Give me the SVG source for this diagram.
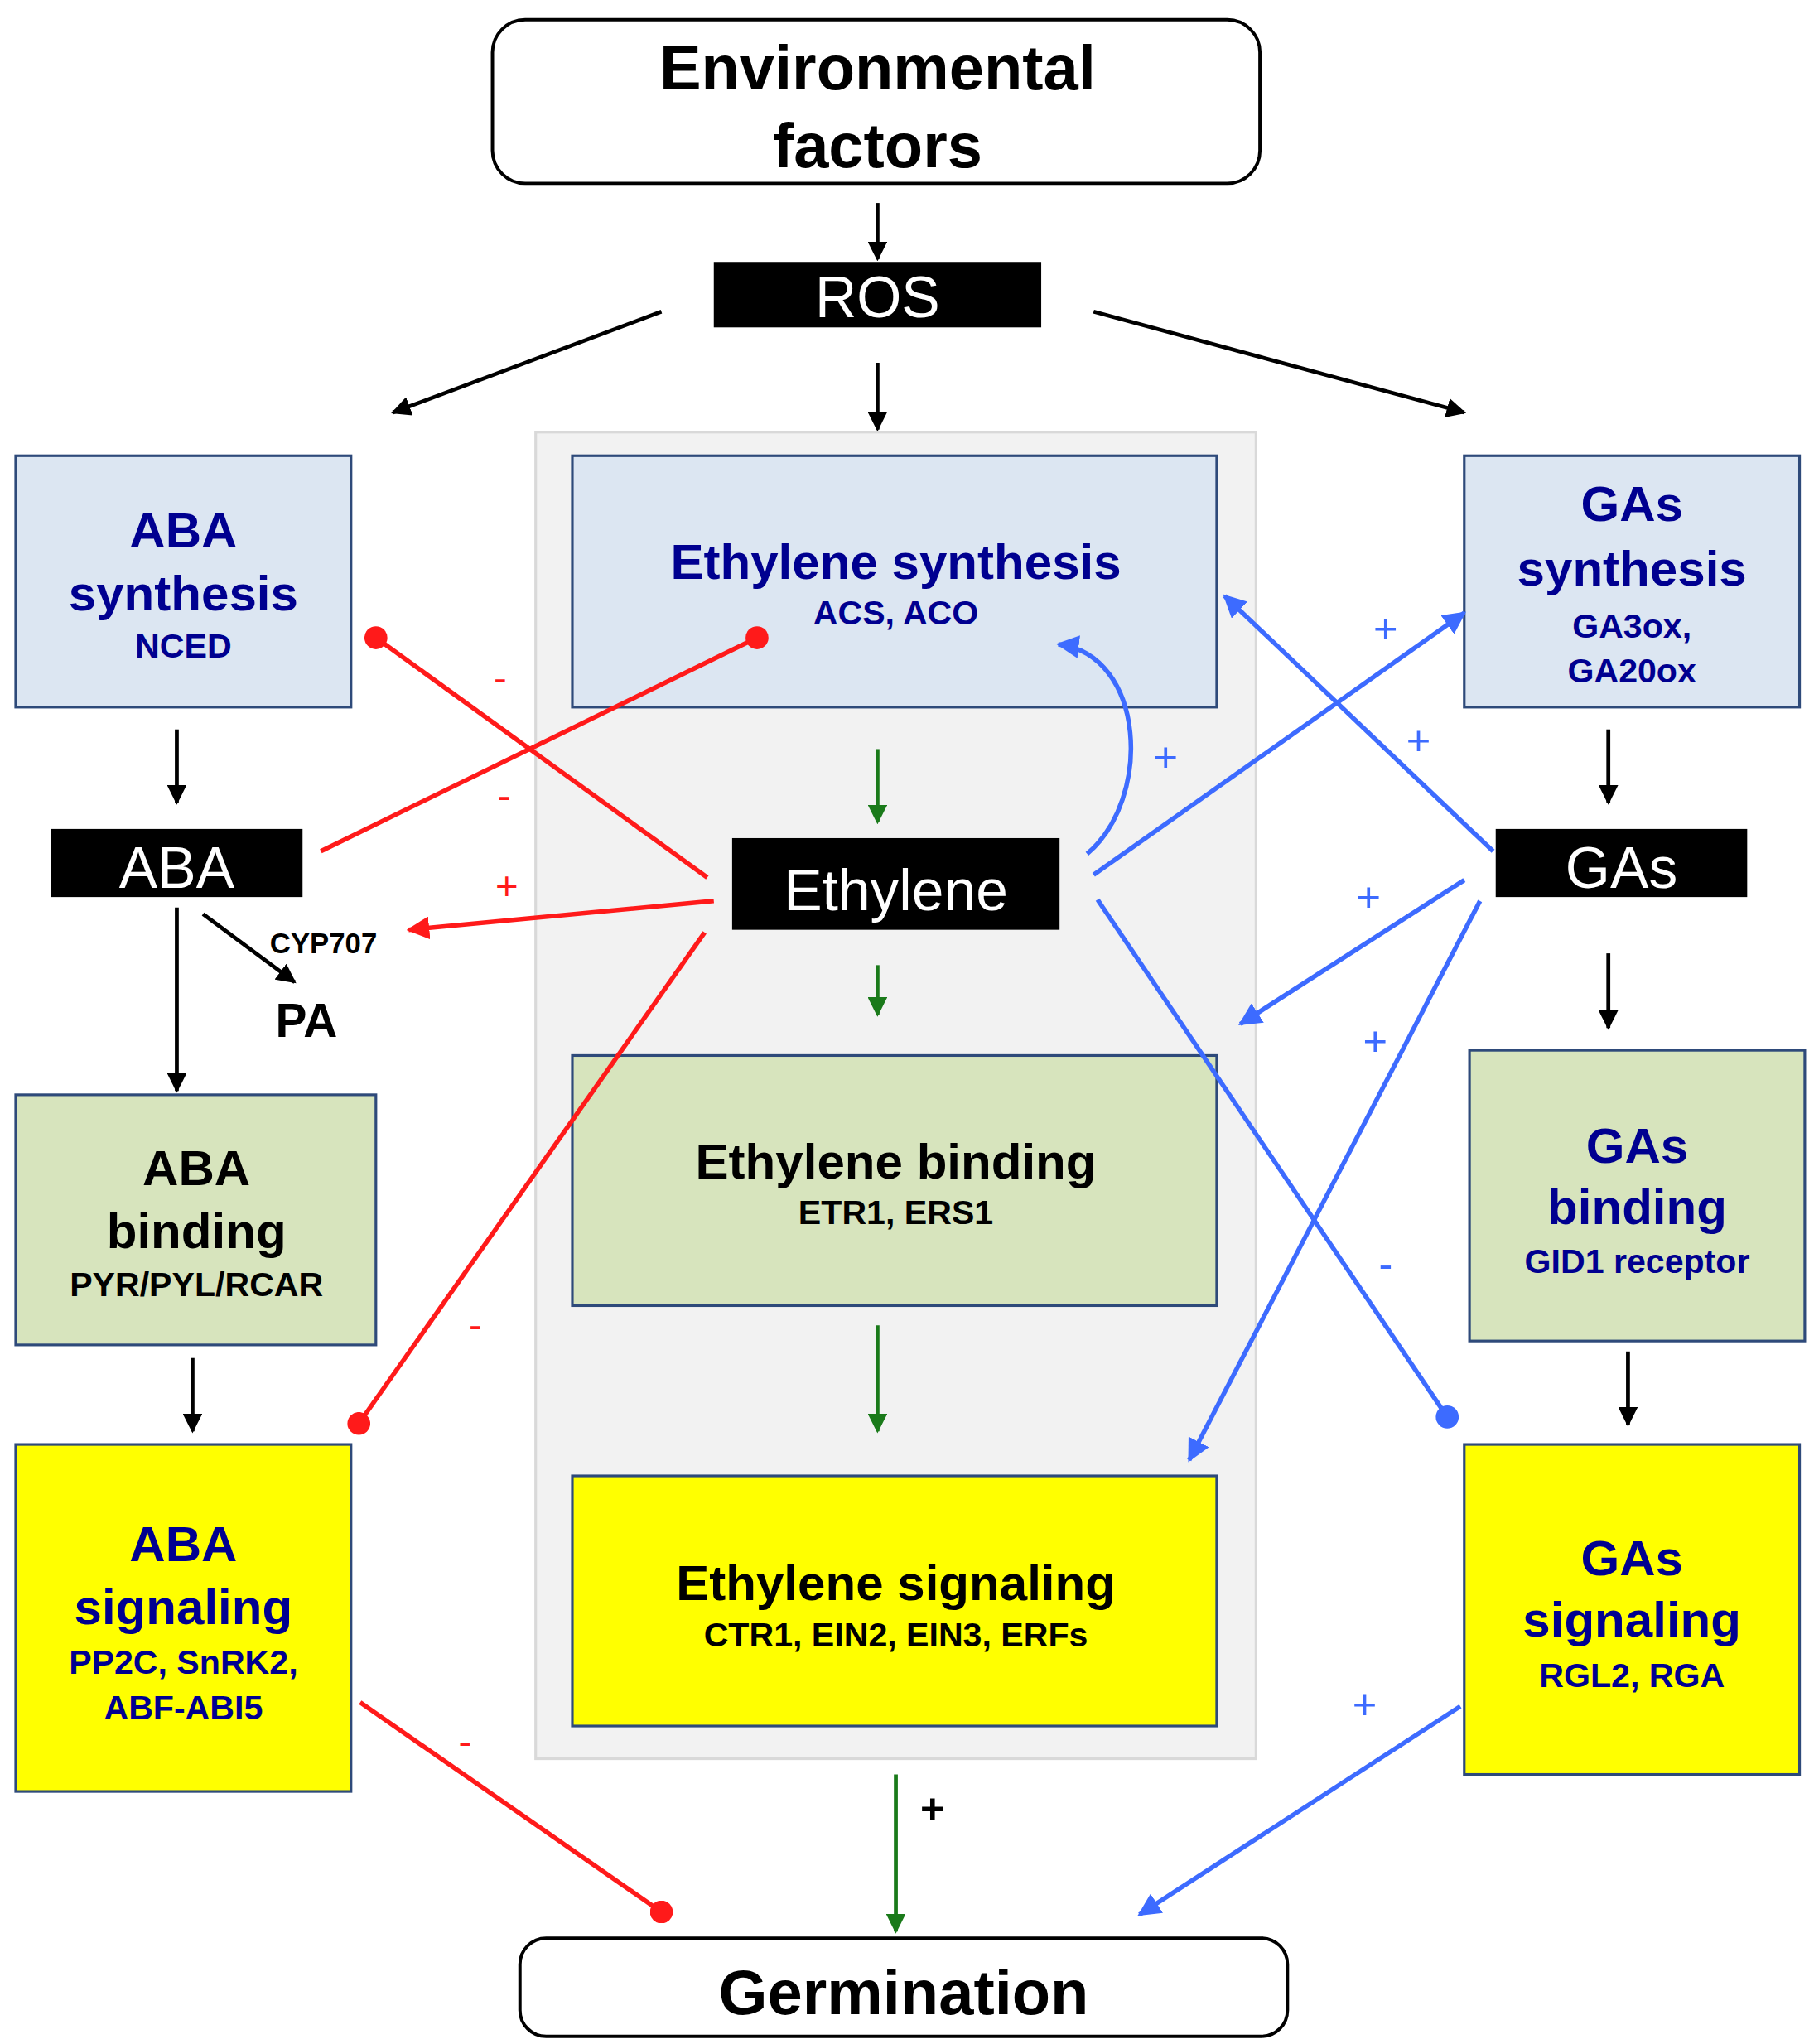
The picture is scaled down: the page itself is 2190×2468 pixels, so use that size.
<svg xmlns="http://www.w3.org/2000/svg" width="2190" height="2468" viewBox="0 0 2190 2468">
<defs>
<style>
text{font-family:"Liberation Sans",Arial,sans-serif;font-weight:bold;text-anchor:middle}
.nv{fill:#000090}.bk{fill:#000}.wt{fill:#fff;font-weight:normal}
.t1{font-size:38px}.t2{font-size:26px}.t3{font-size:44px}
.bx{stroke:#2e4a7a;stroke-width:2}
.blu{fill:#dce6f2}.grn{fill:#d7e4bd}.yel{fill:#ffff00}
.k{stroke:#000;stroke-width:3;fill:none}
.g{stroke:#1a7a1a;stroke-width:3;fill:none}
.r{stroke:#ff1a1a;stroke-width:3.5;fill:none}
.b{stroke:#3d6bff;stroke-width:3.5;fill:none}
.rs{fill:#ff1a1a;font-size:30px;font-weight:normal}
.bs{fill:#3d6bff;font-size:32px;font-weight:normal}
</style>
<marker id="ak" viewBox="0 0 10 10" refX="9" refY="5" markerWidth="5" markerHeight="5" orient="auto"><path d="M0,0L10,5L0,10z" fill="#000"/></marker>
<marker id="ag" viewBox="0 0 10 10" refX="9" refY="5" markerWidth="5" markerHeight="5" orient="auto"><path d="M0,0L10,5L0,10z" fill="#1a7a1a"/></marker>
<marker id="ar" viewBox="0 0 10 10" refX="9" refY="5" markerWidth="5" markerHeight="5" orient="auto"><path d="M0,0L10,5L0,10z" fill="#ff1a1a"/></marker>
<marker id="ab" viewBox="0 0 10 10" refX="9" refY="5" markerWidth="5" markerHeight="5" orient="auto"><path d="M0,0L10,5L0,10z" fill="#3d6bff"/></marker>
<marker id="dr" viewBox="0 0 10 10" refX="5" refY="5" markerWidth="5" markerHeight="5"><circle cx="5" cy="5" r="5" fill="#ff1a1a"/></marker>
<marker id="db" viewBox="0 0 10 10" refX="5" refY="5" markerWidth="5" markerHeight="5"><circle cx="5" cy="5" r="5" fill="#3d6bff"/></marker>
</defs>
<rect width="2190" height="2468" fill="#fff"/>
<g transform="scale(1.5812)">
<rect x="409" y="330" width="550" height="1013" fill="#f2f2f2" stroke="#d9d9d9" stroke-width="2"/>
<g id="env"><rect x="376" y="15" width="586" height="125" rx="25" fill="#fff" stroke="#000" stroke-width="2.5"/><text x="670" y="68" class="bk" font-size="48">Environmental</text><text x="670" y="128" class="bk" font-size="48">factors</text></g>
<g id="ros"><rect x="545" y="200" width="250" height="50" fill="#000"/><text x="670" y="242" class="wt t3">ROS</text></g>
<g id="abasyn"><rect x="12" y="348" width="256" height="192" class="bx blu"/><text x="140" y="418" class="nv t1">ABA</text><text x="140" y="466" class="nv t1">synthesis</text><text x="140" y="502" class="nv t2">NCED</text></g>
<g id="ethsyn"><rect x="437" y="348" width="492" height="192" class="bx blu"/><text x="684" y="442" class="nv t1">Ethylene synthesis</text><text x="684" y="477" class="nv t2">ACS, ACO</text></g>
<g id="gasyn"><rect x="1118" y="348" width="256" height="192" class="bx blu"/><text x="1246" y="398" class="nv t1">GAs</text><text x="1246" y="447" class="nv t1">synthesis</text><text x="1246" y="487" class="nv t2">GA3ox,</text><text x="1246" y="521" class="nv t2">GA20ox</text></g>
<g id="aba"><rect x="39" y="633" width="192" height="52" fill="#000"/><text x="135" y="678" class="wt t3">ABA</text></g>
<g id="eth"><rect x="559" y="640" width="250" height="70" fill="#000"/><text x="684" y="695" class="wt t3">Ethylene</text></g>
<g id="gas"><rect x="1142" y="633" width="192" height="52" fill="#000"/><text x="1238" y="678" class="wt t3">GAs</text></g>
<g id="pa"><text x="247" y="728" class="bk" font-size="22">CYP707</text><text x="234" y="792" class="bk" font-size="36">PA</text></g>
<g id="ababind"><rect x="12" y="836" width="275" height="191" class="bx grn"/><text x="150" y="905" class="bk t1">ABA</text><text x="150" y="953" class="bk t1">binding</text><text x="150" y="990" class="bk t2">PYR/PYL/RCAR</text></g>
<g id="ethbind"><rect x="437" y="806" width="492" height="191" class="bx grn"/><text x="684" y="900" class="bk t1">Ethylene binding</text><text x="684" y="935" class="bk t2">ETR1, ERS1</text></g>
<g id="gabind"><rect x="1122" y="802" width="256" height="222" class="bx grn"/><text x="1250" y="888" class="nv t1">GAs</text><text x="1250" y="935" class="nv t1">binding</text><text x="1250" y="972" class="nv t2">GID1 receptor</text></g>
<g id="abasig"><rect x="12" y="1103" width="256" height="265" class="bx yel"/><text x="140" y="1192" class="nv t1">ABA</text><text x="140" y="1240" class="nv t1">signaling</text><text x="140" y="1278" class="nv t2">PP2C, SnRK2,</text><text x="140" y="1313" class="nv t2">ABF-ABI5</text></g>
<g id="ethsig"><rect x="437" y="1127" width="492" height="191" class="bx yel"/><text x="684" y="1222" class="bk t1">Ethylene signaling</text><text x="684" y="1257" class="bk t2">CTR1, EIN2, EIN3, ERFs</text></g>
<g id="gasig"><rect x="1118" y="1103" width="256" height="252" class="bx yel"/><text x="1246" y="1203" class="nv t1">GAs</text><text x="1246" y="1250" class="nv t1">signaling</text><text x="1246" y="1288" class="nv t2">RGL2, RGA</text></g>
<g id="germ"><rect x="397" y="1480" width="586" height="75" rx="20" fill="#fff" stroke="#000" stroke-width="2.5"/><text x="690" y="1538" class="bk" font-size="48">Germination</text></g>
<g id="connectors">
<path class="k" d="M670,155V198" marker-end="url(#ak)"/>
<path class="k" d="M505,238L300,315" marker-end="url(#ak)"/>
<path class="k" d="M670,277V328" marker-end="url(#ak)"/>
<path class="k" d="M835,238L1118,315" marker-end="url(#ak)"/>
<path class="k" d="M135,557V613" marker-end="url(#ak)"/>
<path class="k" d="M1228,557V613" marker-end="url(#ak)"/>
<path class="k" d="M135,693V833" marker-end="url(#ak)"/>
<path class="k" d="M155,698L225,750" marker-end="url(#ak)"/>
<path class="k" d="M1228,728V785" marker-end="url(#ak)"/>
<path class="k" d="M147,1037V1093" marker-end="url(#ak)"/>
<path class="k" d="M1243,1032V1088" marker-end="url(#ak)"/>
<path class="g" d="M670,572V628" marker-end="url(#ag)"/>
<path class="g" d="M670,737V775" marker-end="url(#ag)"/>
<path class="g" d="M670,1012V1093" marker-end="url(#ag)"/>
<path class="g" d="M684,1355V1475" marker-end="url(#ag)"/>
<text x="712" y="1392" class="bk" font-size="32" font-weight="normal">+</text>
<path class="r" d="M540,670L287,487" marker-end="url(#dr)"/>
<path class="r" d="M245,650L578,487" marker-end="url(#dr)"/>
<path class="r" d="M545,688L312,710" marker-end="url(#ar)"/>
<path class="r" d="M538,712L274,1087" marker-end="url(#dr)"/>
<path class="r" d="M275,1300L505,1460" marker-end="url(#dr)"/>
<text x="382" y="528" class="rs">-</text><text x="385" y="618" class="rs">-</text><text x="387" y="687" class="rs">+</text><text x="363" y="1022" class="rs">-</text><text x="355" y="1340" class="rs">-</text>
<path class="b" d="M830,652C880,610 875,500 808,492" marker-end="url(#ab)"/>
<path class="b" d="M835,668L1118,468" marker-end="url(#ab)"/>
<path class="b" d="M1140,650L935,455" marker-end="url(#ab)"/>
<path class="b" d="M1118,672L947,782" marker-end="url(#ab)"/>
<path class="b" d="M1130,688L908,1115" marker-end="url(#ab)"/>
<path class="b" d="M838,687L1105,1082" marker-end="url(#db)"/>
<path class="b" d="M1115,1303L870,1462" marker-end="url(#ab)"/>
<text x="890" y="589" class="bs">+</text><text x="1058" y="491" class="bs">+</text><text x="1083" y="576" class="bs">+</text><text x="1045" y="696" class="bs">+</text><text x="1050" y="806" class="bs">+</text><text x="1058" y="976" class="bs">-</text><text x="1042" y="1312" class="bs">+</text>
</g>
</g>
</svg>
